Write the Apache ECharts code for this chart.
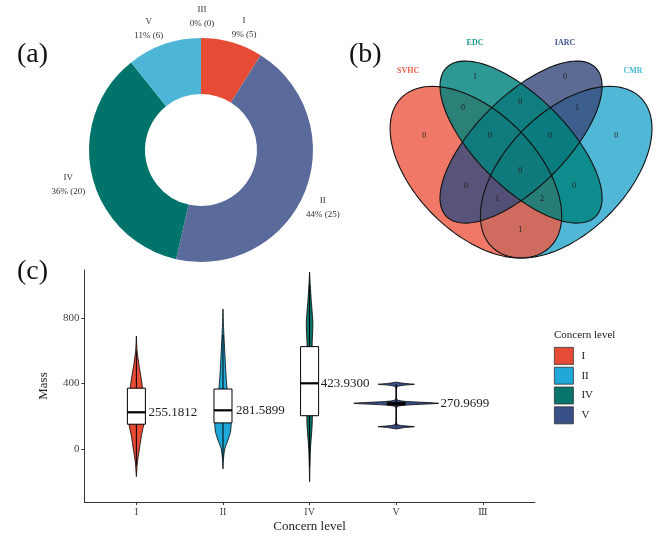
<!DOCTYPE html>
<html><head><meta charset="utf-8">
<script src="https://cdn.jsdelivr.net/npm/echarts@6/dist/echarts.min.js"></script>
<style>html,body{margin:0;padding:0;background:#fff}#c{width:669px;height:542px}</style>
</head><body><div id="c"></div>
<script>
// ---------- (a) donut ----------
const pieNames = ['I', 'II', 'IV', 'V', 'III'];
const pieCounts = [5, 25, 20, 6, 0];
const pieColors = ['#E64B35', '#5A6A9B', '#00736A', '#4DB6D7', '#999999'];

// ---------- (b) venn ----------
const vennSets = ['SVHC', 'EDC', 'IARC', 'CMR'];
const vennSetColors = ['#EC5C44', '#00827C', '#374A7C', '#2AA7CD'];
const vennLabelColors = ['#E8604A', '#17968C', '#3C5488', '#4DBBD5'];
const vennRegions = ['EDC', 'IARC', 'SVHC&EDC', 'EDC&IARC', 'IARC&CMR', 'SVHC', 'SVHC&EDC&IARC',
  'EDC&IARC&CMR', 'CMR', 'ALL', 'SVHC&IARC', 'EDC&CMR', 'SVHC&IARC&CMR', 'SVHC&EDC&CMR', 'SVHC&CMR'];
const vennCounts = [1, 0, 0, 0, 1, 0, 0, 0, 0, 0, 0, 0, 1, 2, 1];

// ---------- (c) violin + box ----------
const levels = ['I', 'II', 'IV', 'V'];
const xTickLabels = ['I', 'II', 'IV', 'V', 'Ⅲ'];
const violinColors = ['#E64B35', '#1FA8D8', '#0A756C', '#3A5088'];
const boxLow = [-100, -60, -110, 136];
const boxQ1 = [151, 159, 203, 268];
const boxMedian = [224, 236, 401, 275];
const boxQ3 = [371, 366, 625, 284];
const boxHigh = [600, 700, 1000, 395];
const meanLabels = ['255.1812', '281.5899', '423.9300', '270.9699'];
// violin profiles: [mass, half width (category units)]
const violinI = [[690, 0], [600, 0.008], [520, 0.028], [450, 0.05], [380, 0.07], [300, 0.09], [220, 0.1], [150, 0.085], [80, 0.058], [0, 0.035], [-80, 0.012], [-169, 0]];
const violinII = [[855, 0], [750, 0.006], [650, 0.015], [550, 0.025], [450, 0.035], [350, 0.05], [250, 0.075], [150, 0.095], [100, 0.085], [50, 0.055], [0, 0.02], [-60, 0.006], [-122, 0]];
const violinIV = [[1080, 0], [1000, 0.008], [900, 0.02], [800, 0.035], [750, 0.038], [650, 0.03], [550, 0.028], [450, 0.03], [350, 0.032], [250, 0.033], [150, 0.03], [60, 0.018], [0, 0.01], [-100, 0.004], [-200, 0]];
const violinV = [[408, 0], [400, 0.1], [395, 0.21], [390, 0.1], [380, 0.01], [340, 0.003], [300, 0.01], [290, 0.12], [279, 0.49], [268, 0.12], [258, 0.01], [200, 0.003], [150, 0.01], [141, 0.1], [136, 0.21], [131, 0.1], [122, 0]];
const violinProfiles = [violinI, violinII, violinIV, violinV];

// ---------- layout constants ----------
const SERIF = '"Liberation Serif", "DejaVu Serif", serif';
const ellipseLayout = [
  { cx: 0.35, cy: 0.47, a: 0.35, b: 0.2, phi: -45 },
  { cx: 0.50, cy: 0.57, a: 0.35, b: 0.15, phi: -45 },
  { cx: 0.50, cy: 0.57, a: 0.35, b: 0.15, phi: 45 },
  { cx: 0.65, cy: 0.47, a: 0.35, b: 0.2, phi: 45 }
];
const ellipseDrawOrder = [3, 0, 2, 1];
const regionAnchors = [[0.347, 0.786], [0.646, 0.786], [0.307, 0.683], [0.497, 0.703], [0.686, 0.683],
  [0.178, 0.59], [0.397, 0.59], [0.596, 0.59], [0.816, 0.59], [0.497, 0.474], [0.317, 0.424],
  [0.676, 0.424], [0.42, 0.381], [0.57, 0.381], [0.497, 0.278]];
const setLabelAnchors = [[0.125, 0.806], [0.347, 0.899], [0.646, 0.899], [0.872, 0.806]];
const pieLabelNudge = [[1, 6], [-7, 6], [3, 5], [-3, 5], [6, 1]];
const labelDx = [0.14, 0.15, 0.13, 0.51];
const boxHalf = 0.104;

function ellipsePoints(e, api) {
  const pts = [];
  const p = e.phi * Math.PI / 180;
  for (let i = 0; i < 120; i++) {
    const t = i / 120 * 2 * Math.PI;
    const x = e.cx + e.a * Math.cos(t) * Math.cos(p) - e.b * Math.sin(t) * Math.sin(p);
    const y = e.cy + e.a * Math.cos(t) * Math.sin(p) + e.b * Math.sin(t) * Math.cos(p);
    pts.push(api.coord([x, y]));
  }
  return pts;
}

const chart = echarts.init(document.getElementById('c'), null, { renderer: 'canvas' });

const series = [];
series.push({
  type: 'pie',
  center: [201, 150],
  radius: [56, 112],
  startAngle: 90,
  clockwise: true,
  avoidLabelOverlap: false,
  percentPrecision: 0,
  silent: true,
  data: pieNames.map((n, i) => ({ name: n, value: pieCounts[i], itemStyle: { color: pieColors[i] } })),
  label: {
    show: true, position: 'outside', formatter: '{b}\n{d}% ({c})',
    fontFamily: SERIF, fontSize: 9, color: '#333', lineHeight: 14
  },
  labelLine: { show: false, length: 22, length2: 0 },
  labelLayout: function (params) {
    const n = pieLabelNudge[params.dataIndex];
    return { align: 'center', verticalAlign: 'middle', dx: n[0], dy: n[1] };
  }
});

// venn fills
series.push({
  type: 'custom', xAxisIndex: 1, yAxisIndex: 1, silent: true, z: 2,
  data: ellipseDrawOrder.map(k => [k]),
  renderItem: function (params, api) {
    const k = api.value(0);
    return { type: 'polygon', shape: { points: ellipsePoints(ellipseLayout[k], api) },
      style: { fill: vennSetColors[k], opacity: 0.82 } };
  }
});
// venn outlines
series.push({
  type: 'custom', xAxisIndex: 1, yAxisIndex: 1, silent: true, z: 3,
  data: [[0], [1], [2], [3]],
  renderItem: function (params, api) {
    const k = api.value(0);
    return { type: 'polygon', shape: { points: ellipsePoints(ellipseLayout[k], api) },
      style: { fill: 'none', stroke: '#111', lineWidth: 1.1 } };
  }
});
// venn counts
series.push({
  type: 'custom', xAxisIndex: 1, yAxisIndex: 1, silent: true, z: 4,
  data: vennCounts.map((c, i) => [regionAnchors[i][0], regionAnchors[i][1], c]),
  renderItem: function (params, api) {
    const p = api.coord([api.value(0), api.value(1)]);
    return { type: 'text', style: { text: String(api.value(2)), x: p[0], y: p[1], align: 'center', verticalAlign: 'middle',
      font: '8px ' + SERIF, fill: '#222' } };
  }
});
// venn set names
series.push({
  type: 'custom', xAxisIndex: 1, yAxisIndex: 1, silent: true, z: 4,
  data: vennSets.map((s, i) => [setLabelAnchors[i][0], setLabelAnchors[i][1], i]),
  renderItem: function (params, api) {
    const p = api.coord([api.value(0), api.value(1)]);
    const i = api.value(2);
    return { type: 'text', style: { text: vennSets[i], x: p[0], y: p[1], align: 'center', verticalAlign: 'middle',
      font: 'bold 8px ' + SERIF, fill: vennLabelColors[i] } };
  }
});

// violins
levels.forEach(function (lv, k) {
  series.push({
    name: lv, type: 'custom', xAxisIndex: 0, yAxisIndex: 0, silent: true, z: 2,
    itemStyle: { color: violinColors[k] },
    data: [[k + 1, 0]],
    renderItem: function (params, api) {
      const prof = violinProfiles[k];
      const x = api.value(0);
      const pts = [];
      for (let i = 0; i < prof.length; i++) pts.push(api.coord([x + prof[i][1], prof[i][0]]));
      for (let i = prof.length - 1; i >= 0; i--) pts.push(api.coord([x - prof[i][1], prof[i][0]]));
      return { type: 'polygon', shape: { points: pts, smooth: 0.2 },
        style: { fill: violinColors[k], stroke: '#000', lineWidth: 0.8 } };
    }
  });
});

// boxes
series.push({
  type: 'custom', xAxisIndex: 0, yAxisIndex: 0, silent: true, z: 5,
  data: levels.map((lv, i) => [i + 1, boxLow[i], boxQ1[i], boxMedian[i], boxQ3[i], boxHigh[i], i]),
  renderItem: function (params, api) {
    const x = api.value(0);
    const i = api.value(6);
    const lo = api.coord([x, api.value(1)]);
    const q1 = api.coord([x, api.value(2)]);
    const md = api.coord([x, api.value(3)]);
    const q3 = api.coord([x, api.value(4)]);
    const hi = api.coord([x, api.value(5)]);
    const hw = api.size([boxHalf, 0])[0];
    const lp = api.coord([x + labelDx[i], api.value(3)]);
    return { type: 'group', children: [
      { type: 'line', shape: { x1: lo[0], y1: lo[1], x2: q1[0], y2: q1[1] }, style: { stroke: '#000', lineWidth: 1 } },
      { type: 'line', shape: { x1: q3[0], y1: q3[1], x2: hi[0], y2: hi[1] }, style: { stroke: '#000', lineWidth: 1 } },
      { type: 'rect', shape: { x: q1[0] - hw, y: q3[1], width: 2 * hw, height: Math.max(q1[1] - q3[1], 1) },
        style: { fill: '#fff', stroke: '#000', lineWidth: 1 } },
      { type: 'line', shape: { x1: md[0] - hw, y1: md[1], x2: md[0] + hw, y2: md[1] }, style: { stroke: '#000', lineWidth: 2.2 } },
      { type: 'text', style: { text: meanLabels[i], x: lp[0], y: lp[1], align: 'left', verticalAlign: 'middle',
        font: '13px ' + SERIF, fill: '#222' } }
    ] };
  }
});

const titleStyle = { fontFamily: SERIF, fontSize: 28, fontWeight: 'normal', color: '#111' };
const option = {
  animation: false,
  backgroundColor: '#fff',
  title: [
    { text: '(a)', left: 17, top: 41, padding: 0, textStyle: titleStyle },
    { text: '(b)', left: 349, top: 41, padding: 0, textStyle: titleStyle },
    { text: '(c)', left: 17, top: 258, padding: 0, textStyle: titleStyle },
    { text: 'Concern level', left: 554, top: 330, padding: 0, textStyle: { fontFamily: SERIF, fontSize: 11, fontWeight: 'normal', color: '#222' } }
  ],
  legend: {
    orient: 'vertical', left: 554, top: 347, padding: 0, icon: 'rect', itemWidth: 19, itemHeight: 17, itemGap: 2,
    selectedMode: false,
    textStyle: { fontFamily: SERIF, fontSize: 11, color: '#222', padding: [0, 0, 0, 3] },
    data: levels.map((lv, i) => ({ name: lv, itemStyle: { color: violinColors[i], borderColor: '#333', borderWidth: 0.8 } }))
  },
  grid: [
    { left: 84.4, top: 270, width: 450.4, height: 232 },
    { left: 385.6, top: 27.7, width: 270.9, height: 240.8 }
  ],
  xAxis: [
    {
      type: 'value', gridIndex: 0, min: 0.4, max: 5.6,
      axisLine: { show: true, onZero: false, lineStyle: { color: '#333', width: 1 } },
      axisTick: { show: true, length: 3, customValues: [1, 2, 3, 4, 5], lineStyle: { color: '#333' } },
      axisLabel: { customValues: [1, 2, 3, 4, 5], formatter: v => xTickLabels[Math.round(v) - 1],
        fontFamily: SERIF, fontSize: 10, color: '#444', margin: 5 },
      splitLine: { show: false },
      name: 'Concern level', nameLocation: 'middle', nameGap: 18,
      nameTextStyle: { fontFamily: SERIF, fontSize: 13, color: '#222' }
    },
    { type: 'value', gridIndex: 1, min: 0.05, max: 0.95, show: false }
  ],
  yAxis: [
    {
      type: 'value', gridIndex: 0, min: -324, max: 1093,
      axisLine: { show: true, onZero: false, lineStyle: { color: '#333', width: 1 } },
      axisTick: { show: true, length: 3, customValues: [0, 400, 800], lineStyle: { color: '#333' } },
      axisLabel: { customValues: [0, 400, 800], fontFamily: SERIF, fontSize: 11, color: '#444', margin: 5 },
      splitLine: { show: false },
      name: 'Mass', nameLocation: 'middle', nameGap: 34, nameRotate: 90,
      nameTextStyle: { fontFamily: SERIF, fontSize: 13, color: '#222' }
    },
    { type: 'value', gridIndex: 1, min: 0.15, max: 0.95, show: false }
  ],
  series: series
};
chart.setOption(option);
</script>
</body></html>
